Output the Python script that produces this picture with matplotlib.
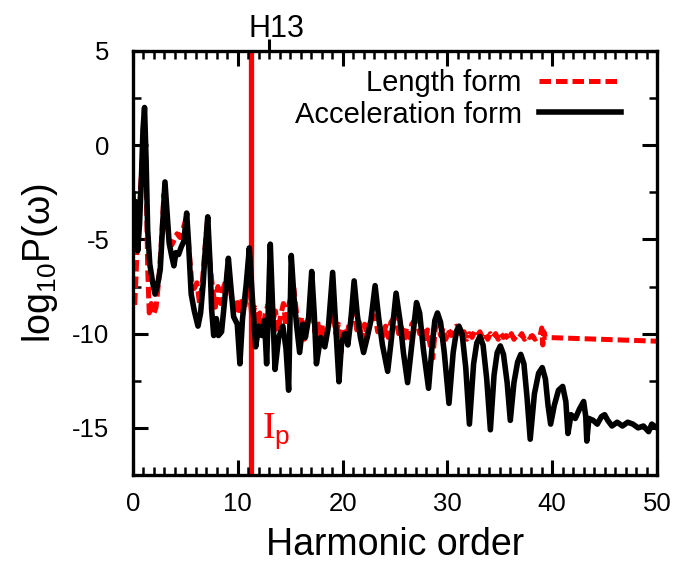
import matplotlib
matplotlib.use("Agg")
import matplotlib.pyplot as plt
from matplotlib.ticker import MultipleLocator, NullLocator
import matplotlib.transforms as mtransforms

plt.rcParams['font.family'] = ['Liberation Sans', 'DejaVu Sans']
plt.rcParams['axes.unicode_minus'] = False
plt.rcParams['mathtext.fontset'] = 'custom'
plt.rcParams['mathtext.rm'] = 'Liberation Serif'
plt.rcParams['mathtext.sf'] = 'Liberation Sans'
plt.rcParams['mathtext.it'] = 'Liberation Sans:italic'

# acceleration form spectrum (black)
acc_x = [0.0, 0.12, 0.28, 0.45, 0.62, 0.8, 0.95, 1.1, 1.25, 1.4, 1.6, 1.85, 2.1, 2.35, 2.6, 2.8,
         3.05, 3.25, 3.45, 3.7, 3.9, 4.1, 4.35, 4.6, 4.85, 5.12, 5.3, 5.55, 5.85, 6.2, 6.45, 6.7,
         6.9, 7.13, 7.35, 7.5, 7.7, 7.95, 8.15, 8.45, 8.75, 9.1, 9.35, 9.6, 9.95, 10.2, 10.45,
         10.8, 11.1, 11.4, 11.7, 12.0, 12.3, 12.55, 12.75, 12.95, 13.1, 13.3, 13.55, 13.9, 14.3,
         14.6, 14.85, 15.1, 15.35, 15.6, 15.9, 16.2, 16.45, 16.75, 17.05, 17.3, 17.5, 17.9, 18.3,
         18.65, 19.05, 19.35, 19.65, 19.9, 20.2, 20.5, 20.8, 21.1, 21.4, 21.7, 22.0, 22.35, 22.7,
         23.1, 23.45, 23.8, 24.3, 24.65, 25.1, 25.5, 25.8, 26.2, 26.6, 27.05, 27.35, 27.7, 28.2,
         28.55, 28.8, 29.05, 29.35, 29.7, 30.15, 30.55, 30.85, 31.1, 31.4, 31.75, 32.1, 32.5,
         32.8, 33.1, 33.4, 33.75, 34.1, 34.45, 34.75, 35.05, 35.35, 35.7, 36.0, 36.35, 36.7, 37.0,
         37.3, 37.6, 37.9, 38.3, 38.7, 39.05, 39.35, 39.6, 39.85, 40.2, 40.6, 41.0, 41.3, 41.5,
         41.8, 42.2, 42.6, 43.0, 43.2, 43.3, 43.5, 43.9, 44.3, 44.7, 45.0, 45.3, 45.7, 46.2, 46.7,
         47.2, 47.7, 48.2, 48.7, 49.2, 49.5, 50.0]
acc_y = [-2.6, -4.9, -3.0, -5.6, -4.2, -1.8, 0.8, 2.0, -0.8, -4.5, -6.3, -7.2, -7.9, -7.4, -6.6, -4.5,
         -1.95, -3.6, -5.2, -5.9, -6.4, -5.7, -5.8, -5.4, -5.1, -3.6, -5.2, -7.9, -8.8, -9.6, -8.9, -7.3,
         -5.5, -3.8, -6.3, -8.7, -10.1, -9.2, -10.1, -9.9, -8.2, -6.0, -7.6, -9.1, -9.5, -11.6, -9.2,
         -7.4, -5.45, -8.2, -10.7, -9.6, -10.1, -9.3, -11.6, -8.0, -5.25, -8.3, -11.9, -10.2, -9.6,
         -10.8, -13.0, -5.85, -8.0, -9.5, -11.0, -9.5, -10.2, -9.2, -6.7, -9.0, -11.6, -10.2, -10.7,
         -9.6, -6.75, -9.6, -12.55, -10.5, -10.0, -10.6, -9.2, -7.2, -9.0, -10.2, -11.0, -10.2, -9.3,
         -7.45, -9.2, -10.6, -12.0, -10.3, -7.85, -9.4, -11.0, -12.6, -10.6, -8.35, -8.9, -10.8, -12.9,
         -10.6, -9.3, -8.9, -9.4, -11.0, -13.7, -11.0, -9.9, -9.6, -10.0, -11.8, -14.8, -11.6,
         -10.5, -10.15, -10.6, -12.4, -15.1, -12.2, -11.0, -10.65, -11.1, -12.6, -14.6, -12.6, -11.5, -11.1,
         -11.6, -13.4, -15.6, -13.2, -12.1, -11.8, -12.4, -13.8, -14.8, -13.8, -13.0, -12.8, -13.6, -15.3,
         -14.3, -14.5, -14.0, -13.6, -14.4, -15.7, -14.5, -14.6, -14.8, -14.4, -14.3, -14.6, -14.9, -14.7, -14.9,
         -14.7, -14.8, -15.0, -14.9, -15.2, -14.8, -15.0]

# length form spectrum (red dashed)
len_x = [0.0, 0.15, 0.3, 0.45, 0.65, 0.85, 1.05, 1.25, 1.4, 1.55, 1.75, 1.95, 2.2, 2.45, 2.7, 2.95,
         3.2, 3.45, 3.7, 3.95, 4.2, 4.5, 4.8, 5.1, 5.35, 5.6, 5.85, 6.1, 6.35, 6.6, 6.85, 7.1, 7.35,
         7.6, 7.85, 8.1, 8.35, 8.6, 8.85, 9.1, 9.35, 9.6, 9.85, 10.1, 10.35, 10.6, 10.85, 11.1, 11.35,
         11.6, 11.85, 12.1, 12.35, 12.6, 12.85, 13.1, 13.35, 13.6, 13.85, 14.1, 14.35, 14.6, 14.85,
         15.1, 15.35, 15.6, 15.85, 16.1, 16.35, 16.6, 16.85, 17.1, 17.35, 17.6, 17.85, 18.1, 18.35,
         18.6, 18.85, 19.1, 19.35, 19.6, 19.85, 20.1, 20.35, 20.6, 20.85, 21.1, 21.35, 21.6, 21.85,
         22.1, 22.35, 22.6, 22.85, 23.1, 23.35, 23.6, 23.85, 24.1, 24.35, 24.6, 24.85, 25.1, 25.35,
         25.6, 25.85, 26.1, 26.35, 26.6, 26.85, 27.1, 27.35, 27.6, 27.85, 28.1, 28.35, 28.6, 28.85,
         29.1, 29.35, 29.6, 29.85, 30.1, 30.35, 30.6, 30.85, 31.1, 31.35, 31.6, 31.85, 32.1, 32.35,
         32.6, 32.85, 33.1, 33.35, 33.6, 33.85, 34.1, 34.35, 34.6, 34.85, 35.1, 35.35, 35.6, 35.85,
         36.1, 36.35, 36.6, 36.85, 37.1, 37.35, 37.6, 37.85, 38.1, 38.35, 38.6, 38.85, 39.0, 39.1,
         39.2, 39.35, 50.0]
len_y = [-7.0, -8.6, -6.8, -4.5, -3.0, -1.0, 1.2, -1.5, -6.5, -8.9, -8.4, -9.0, -8.6, -7.2, -5.2, -2.6,
         -4.0, -5.0, -5.3, -5.0, -4.7, -4.9, -4.4, -3.8, -5.6, -7.2, -7.6, -7.3, -8.4, -7.4, -5.6, -4.0, -6.4,
         -7.6, -8.6, -7.5, -8.4, -7.6, -7.2, -6.4, -7.9, -8.7, -8.2, -9.0, -8.1, -8.8, -8.0, -7.6, -9.2,
         -8.6, -9.6, -8.9, -9.8, -9.0, -8.5, -8.2, -9.3, -8.8, -9.9, -9.0, -8.4, -9.6, -8.5,
         -8.0, -7.6, -8.9, -9.9, -9.1, -10.3, -9.4, -9.0, -8.8, -9.9, -9.3, -10.2, -9.5, -10.5,
         -9.6, -9.2, -8.9, -10.0, -9.5, -11.0, -9.7, -10.4, -9.5, -9.1, -8.9, -9.8, -9.4, -10.4,
         -9.5, -10.1, -9.3, -9.0, -9.1, -9.9, -9.5, -10.3, -9.6, -10.2, -9.4, -9.2, -9.3, -10.0,
         -9.6, -10.4, -9.7, -10.2, -9.5, -9.3, -9.4, -10.0, -9.6, -10.5, -9.8, -10.6, -11.3, -9.7,
         -9.5, -10.1, -9.7, -10.3, -9.8, -10.1, -9.7, -9.6, -9.8, -10.2, -9.9, -10.3, -10.0, -10.2,
         -9.9, -10.1, -9.9, -10.2, -10.0, -10.3, -10.0, -10.2, -10.0, -10.3, -10.0, -10.2, -10.1, -10.3,
         -10.0, -10.3, -10.1, -10.2, -10.0, -10.3, -10.1, -10.2, -10.1, -10.3, -10.2, -10.1, -9.7, -10.6,
         -9.9, -10.2, -10.4]

ip_order = 11.3
h13_order = 13

fig = plt.figure(figsize=(6.8, 5.62), dpi=100)
ax = fig.add_axes([0.1956, 0.1548, 0.7706, 0.7545])

ax.axvline(ip_order, color='#ff0000', lw=3.8, zorder=1)
ax.plot(len_x, len_y, color='#ff0000', lw=3.6, dashes=(2.3, 1.0), label='Length form', zorder=2)
ax.plot(acc_x, acc_y, color='black', lw=4.0, label='Acceleration form', zorder=3)

ax.set_xlim(0, 50)
ax.set_ylim(-17.5, 5)
ax.xaxis.set_major_locator(MultipleLocator(10))
ax.xaxis.set_minor_locator(MultipleLocator(1))
ax.yaxis.set_major_locator(MultipleLocator(5))
ax.yaxis.set_minor_locator(MultipleLocator(2.5))
ax.tick_params(which='both', direction='in', top=True, right=True, labelsize=18.5)
ax.tick_params(which='major', length=11, width=2.2)
ax.tick_params(which='minor', length=6, width=1.8)
ax.tick_params(axis='x', which='major', pad=12)
ax.tick_params(axis='y', which='major', pad=17)
for s in ax.spines.values():
    s.set_linewidth(2.4)

ax.set_xlabel('Harmonic order', fontsize=27, labelpad=8)
ax.set_ylabel('log$_{\\mathsf{10}}$P(ω)', fontsize=27, labelpad=9)

# H13 mark on the top axis
sec = ax.secondary_xaxis('top')
sec.set_xticks([h13_order])
sec.set_xticklabels([''])
sec.xaxis.set_minor_locator(NullLocator())
sec.tick_params(direction='out', length=9, width=2.2)
sec.spines['top'].set_visible(False)
trans = mtransforms.blended_transform_factory(ax.transData, ax.transAxes)
ax.text(h13_order + 0.7, 1.033, 'H13', transform=trans, ha='center', va='baseline', fontsize=22)

ax.text(12.3, -15.5, r'$\mathrm{I}_{\mathsf{p}}$', color='#ff0000', fontsize=27, va='baseline')

leg = ax.legend(loc='upper right', bbox_to_anchor=(0.931, 0.957), markerfirst=False, frameon=False,
                fontsize=21, handlelength=2.8, handletextpad=0.6, labelspacing=0.12,
                borderpad=0, borderaxespad=0)

fig.savefig('out.png', dpi=100)
